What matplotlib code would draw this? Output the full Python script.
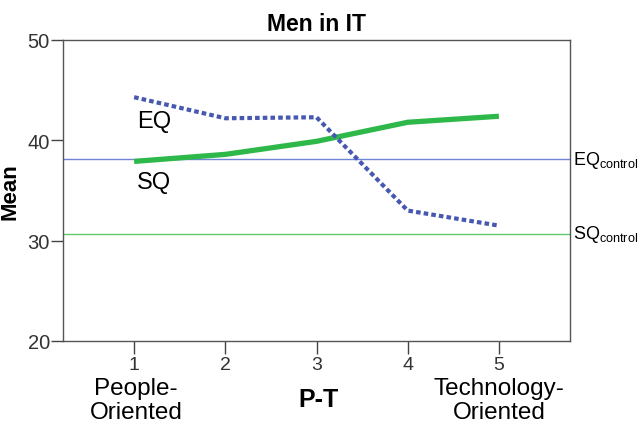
import matplotlib
matplotlib.use("Agg")
import matplotlib.pyplot as plt

plt.rcParams['font.family'] = ['Liberation Sans', 'DejaVu Sans']

x = [1, 2, 3, 4, 5]
eq = [44.3, 42.2, 42.3, 33.0, 31.5]
sq = [37.9, 38.6, 39.9, 41.8, 42.4]
eq_control = 38.1
sq_control = 30.7
title = "Men in IT"

fig = plt.figure(figsize=(6.39, 4.27), dpi=100)
ax = fig.add_axes([63/639, 1-342/427, (570-63)/639, (342-41)/427])

ax.axhline(eq_control, color='#6f84d6', lw=1.0, zorder=1)
ax.axhline(sq_control, color='#5ccc6a', lw=1.0, zorder=1)
ax.plot(x, sq, color='#2fb84a', lw=3.8, solid_capstyle='butt', zorder=3)
ax.plot(x, eq, color='#4658b0', lw=3.0, linestyle=(0, (1.1, 0.75)),
        dash_capstyle='butt', zorder=4)

ax.set_xlim(0.22, 5.78)
ax.set_ylim(20, 50)
ax.set_yticks([20, 30, 40, 50])
ax.set_xticks(x)
ax.tick_params(axis='both', direction='out', length=9, width=1, colors='#444444',
               labelsize=14.5, labelcolor='#333333')
ax.tick_params(axis='y', pad=0.5)
ax.tick_params(axis='x', pad=2, labelsize=14)
for s in ax.spines.values():
    s.set_color('#555555')
    s.set_linewidth(1.0)

ax.set_title(title, fontsize=16.5, fontweight='bold', pad=7)
ax.set_ylabel("Mean", fontsize=16, fontweight='bold', labelpad=5)

ax.text(1.03, 41.9, "EQ", fontsize=17, ha='left', va='center')
ax.text(1.03, 35.8, "SQ", fontsize=17, ha='left', va='center')
ax.text(5.81, eq_control, r"EQ$_{\mathregular{control}}$", fontsize=13,
        ha='left', va='center', clip_on=False)
ax.text(5.81, sq_control, r"SQ$_{\mathregular{control}}$", fontsize=13,
        ha='left', va='center', clip_on=False)

fig.text(136/639, 1-401/427, "People-\nOriented", fontsize=17.5, ha='center',
         va='center', linespacing=1.08)
fig.text(499/639, 1-401/427, "Technology-\nOriented", fontsize=17.5, ha='center',
         va='center', linespacing=1.08)
fig.text(318/639, 1-400/427, "P-T", fontsize=18, fontweight='bold', ha='center',
         va='center')

fig.savefig("out.png", dpi=100, facecolor='white')
